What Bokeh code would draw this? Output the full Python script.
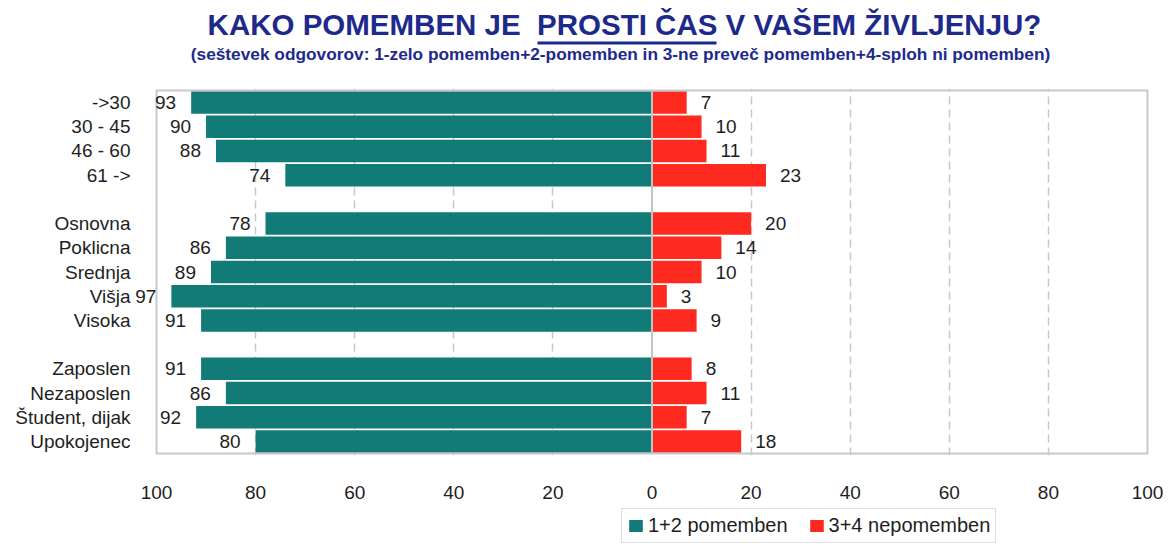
from bokeh.plotting import figure
from bokeh.models import (ColumnDataSource, FactorRange, Range1d, FixedTicker,
                          CustomJSTickFormatter, Legend, LegendItem)
from bokeh.layouts import column
from bokeh.core.properties import value
from bokeh.embed import file_html
from bokeh.resources import INLINE

# ---------------- data ----------------
title_text = "KAKO POMEMBEN JE \u00a0PROSTI ČAS V VAŠEM ŽIVLJENJU?"
subtitle_text = ("(seštevek odgovorov: 1-zelo pomemben+2-pomemben in 3-ne preveč "
                 "pomemben+4-sploh ni pomemben)")

age_groups = ["->30", "30 - 45", "46 - 60", "61 ->"]
age_pom = [93, 90, 88, 74]
age_nepom = [7, 10, 11, 23]

education = ["Osnovna", "Poklicna", "Srednja", "Višja", "Visoka"]
edu_pom = [78, 86, 89, 97, 91]
edu_nepom = [20, 14, 10, 3, 9]

status = ["Zaposlen", "Nezaposlen", "Študent, dijak", "Upokojenec"]
status_pom = [91, 86, 92, 80]
status_nepom = [8, 11, 7, 18]

series_names = ["1+2 pomemben", "3+4 nepomemben"]
x_ticks = [-100, -80, -60, -40, -20, 0, 20, 40, 60, 80, 100]
grid_ticks = [-80, -60, -40, -20, 20, 40, 60, 80]

# ---------------- styles ----------------
TEAL = "#137B77"
RED = "#FF2A1F"
NAVY = "#1D2A8C"
TXT = "#1E1E1E"
GRIDC = "#C8C8C8"
BORDERC = "#C8C8C8"
FONT = "Liberation Sans"

cats = age_groups + education + status
pom = age_pom + edu_pom + status_pom
nepom = age_nepom + edu_nepom + status_nepom

order = age_groups + [" "] + education + ["  "] + status  # top to bottom

src = ColumnDataSource(dict(
    cat=cats,
    neg=[-v for v in pom],
    pos=nepom,
    pom_lbl=[str(v) for v in pom],
    nepom_lbl=[str(v) for v in nepom],
))

# ---------------- layout constants (page pixels) ----------------
W = 1166
PLOT_L, PLOT_R = 156, 1147      # where -100 and +100 sit
FR_L, FR_R = 133, 1149          # drawing frame (wider on the left for outside labels)
BL, BR = FR_L, W - FR_R
SCALE = (PLOT_R - PLOT_L) / 200.0
X0 = -100 - (PLOT_L - FR_L) / SCALE
X1 = 100 + (FR_R - PLOT_R) / SCALE
PAD = 0.08                      # factor-units padding so the border is not clipped

# ---------------- title figure (pixel coordinates) ----------------
TH = 70
t = figure(width=W, height=TH, x_range=Range1d(FR_L, FR_R), y_range=Range1d(TH, 0),
           x_axis_type=None, y_axis_type=None, toolbar_location=None,
           output_backend="svg", min_border_left=BL, min_border_right=BR,
           min_border_top=0, min_border_bottom=0)
t.outline_line_color = None
t.grid.visible = False
t.text(x=[624], y=[24], text=[title_text], text_align="center", text_baseline="middle",
       text_font=value(FONT), text_font_style="bold", text_font_size=value("29.5px"),
       text_color=NAVY)
t.text(x=[620], y=[53], text=[subtitle_text], text_align="center", text_baseline="middle",
       text_font=value(FONT), text_font_style="bold", text_font_size=value("17.3px"),
       text_color=NAVY)
t.segment(x0=[537], y0=[42.5], x1=[716], y1=[42.5], line_color=NAVY, line_width=3)

# ---------------- main figure ----------------
p = figure(width=W, height=435, x_range=Range1d(X0, X1),
           y_range=FactorRange(factors=list(reversed(order)), range_padding=PAD,
                               range_padding_units="absolute"),
           toolbar_location=None, output_backend="svg",
           min_border_left=BL, min_border_right=BR, min_border_top=18,
           min_border_bottom=50)
p.outline_line_color = None
p.background_fill_color = "white"
p.border_fill_color = "white"

p.ygrid.visible = False
p.xgrid.ticker = FixedTicker(ticks=grid_ticks)
p.xgrid.grid_line_color = GRIDC
p.xgrid.grid_line_width = 1.5
p.xgrid.grid_line_dash = "8 5"

r1 = p.hbar(y="cat", left="neg", right=0, height=0.93, source=src,
            fill_color=TEAL, line_color=None)
r2 = p.hbar(y="cat", left=0, right="pos", height=0.93, source=src,
            fill_color=RED, line_color=None)

# zero line and plot-area border
p.segment(x0=[0], y0=[0], x1=[0], y1=[len(order)], line_color="#C4C4C4", line_width=2)
p.quad(left=[-100], right=[100], bottom=[0], top=[len(order)],
       fill_color=None, line_color=BORDERC, line_width=2)

p.text(x="neg", y="cat", text="pom_lbl", source=src, x_offset=-15,
       text_align="right", text_baseline="middle", text_font=value(FONT),
       text_font_size=value("19px"), text_color=TXT)
p.text(x="pos", y="cat", text="nepom_lbl", source=src, x_offset=14,
       text_align="left", text_baseline="middle", text_font=value(FONT),
       text_font_size=value("19px"), text_color=TXT)

xa = p.xaxis[0]
xa.ticker = FixedTicker(ticks=x_ticks)
xa.formatter = CustomJSTickFormatter(code="return Math.abs(tick).toString();")
xa.axis_line_color = None
xa.major_tick_line_color = None
xa.minor_tick_line_color = None
xa.major_label_standoff = 24
xa.major_label_text_font = FONT
xa.major_label_text_font_size = "19px"
xa.major_label_text_color = TXT

ya = p.yaxis[0]
ya.axis_line_color = None
ya.major_tick_line_color = None
ya.minor_tick_line_color = None
ya.major_label_standoff = -3
ya.major_label_text_font = FONT
ya.major_label_text_font_size = "19px"
ya.major_label_text_color = TXT

# ---------------- legend figure ----------------
LH = 39
lg = figure(width=W, height=LH, x_range=Range1d(0, 1), y_range=Range1d(0, 1),
            x_axis_type=None, y_axis_type=None, toolbar_location=None,
            output_backend="svg", min_border_left=BL, min_border_right=BR,
            min_border_top=0, min_border_bottom=0)
lg.outline_line_color = None
lg.grid.visible = False
# legend swatch carriers (zero-width, so nothing is drawn in the frame)
d1 = lg.hbar(y=[0.5], left=[0], right=[0], height=0.5, fill_color=TEAL, line_color=None)
d2 = lg.hbar(y=[0.5], left=[0], right=[0], height=0.5, fill_color=RED, line_color=None)
legend = Legend(items=[LegendItem(label=series_names[0], renderers=[d1]),
                       LegendItem(label=series_names[1], renderers=[d2])],
                orientation="horizontal", location=(621 - BL, 1),
                glyph_width=17, glyph_height=15, label_standoff=4, spacing=20,
                padding=5, margin=0, label_text_font=FONT,
                label_text_font_size="20px", label_text_color=TXT,
                border_line_color="#BDBDBD", border_line_width=1.5,
                background_fill_color="white", background_fill_alpha=1.0)
lg.add_layout(legend)

layout = column(t, p, lg)
open("out.html", "w").write(file_html(layout, INLINE))
